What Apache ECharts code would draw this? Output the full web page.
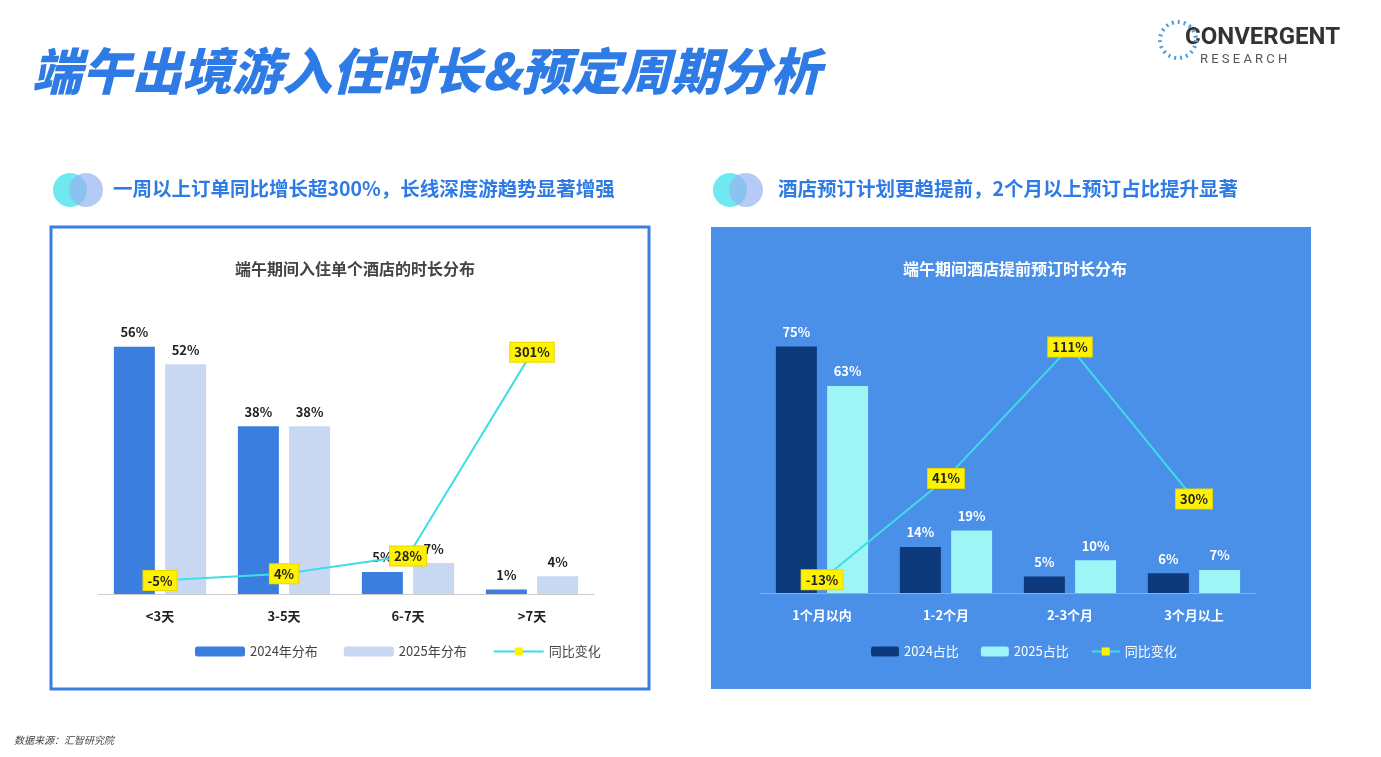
<!DOCTYPE html>
<html><head><meta charset="utf-8">
<script src="https://cdn.jsdelivr.net/npm/echarts@6/dist/echarts.min.js"></script>
<style>html,body{margin:0;background:#fff}#c{width:1381px;height:757px}</style>
</head><body><div id="c"></div>
<script>
var stayCats = ['<3天', '3-5天', '6-7天', '>7天'];
var stay2024 = [56, 38, 5, 1];
var stay2025 = [52, 38, 7, 4];
var stayYoy = [-5, 4, 28, 301];

var bookCats = ['1个月以内', '1-2个月', '2-3个月', '3个月以上'];
var book2024 = [75, 14, 5, 6];
var book2025 = [63, 19, 10, 7];
var bookYoy = [-13, 41, 111, 30];

var FONT = '"Noto Sans CJK SC", sans-serif';
var chart = echarts.init(document.getElementById('c'));

function barLabel(color) {
    return {show: true, position: 'top', formatter: '{c}%', color: color, fontWeight: 'bold', fontSize: 13, fontFamily: FONT, distance: 8};
}
var yoyLabel = {show: true, position: 'inside', formatter: '{c}%', color: '#222', backgroundColor: '#fff200',
    padding: [3, 4], fontWeight: 'bold', fontSize: 13, fontFamily: FONT, borderColor: '#e8d800', borderWidth: 1};

var option = {
    animation: false,
    textStyle: {fontFamily: FONT},
    graphic: [
        {type: 'text', left: 32, top: 46, style: {text: '端午出境游入住时长&预定周期分析', fill: '#2f7be5', font: 'italic 900 50px ' + FONT}},
        {type: 'text', left: 1185, top: 26, style: {text: 'CONVERGENT', fill: '#333', font: 'bold 24px Roboto'}},
        {type: 'text', left: 1200, top: 53, style: {text: 'R E S E A R C H', fill: '#555', font: '13px Roboto'}},
        {type: 'circle', shape: {cx: 1178, cy: 40, r: 18}, style: {fill: 'none', stroke: '#4a9ee0', lineWidth: 4, lineDash: [2, 4]}},
        {type: 'circle', shape: {cx: 70, cy: 190, r: 17}, style: {fill: '#6fe8f0'}},
        {type: 'circle', shape: {cx: 86, cy: 190, r: 17}, style: {fill: 'rgba(150,180,240,0.7)'}},
        {type: 'text', left: 113, top: 179, style: {text: '一周以上订单同比增长超300%，长线深度游趋势显著增强', fill: '#2f7be5', font: 'bold 19.5px ' + FONT}},
        {type: 'circle', shape: {cx: 730, cy: 190, r: 17}, style: {fill: '#6fe8f0'}},
        {type: 'circle', shape: {cx: 746, cy: 190, r: 17}, style: {fill: 'rgba(150,180,240,0.7)'}},
        {type: 'text', left: 778, top: 179, style: {text: '酒店预订计划更趋提前，2个月以上预订占比提升显著', fill: '#2f7be5', font: 'bold 19.5px ' + FONT}},
        {type: 'rect', z: -1, shape: {x: 51, y: 227, width: 598, height: 462}, style: {fill: '#fff', stroke: '#3a7fe0', lineWidth: 3}},
        {type: 'rect', z: -1, shape: {x: 711, y: 227, width: 600, height: 462}, style: {fill: '#4a8fe8'}},
        {type: 'text', left: 14, top: 735, style: {text: '数据来源：汇智研究院', fill: '#444', font: 'italic 10px ' + FONT}}
    ],
    title: [
        {text: '端午期间入住单个酒店的时长分布', left: 350, top: 256, textAlign: 'center', textStyle: {fontSize: 16, fontWeight: 'bold', color: '#444'}},
        {text: '端午期间酒店提前预订时长分布', left: 1010, top: 256, textAlign: 'center', textStyle: {fontSize: 16, fontWeight: 'bold', color: '#fff'}}
    ],
    legend: [
        {left: 190, top: 640, itemWidth: 50, itemHeight: 10, itemGap: 26, textStyle: {color: '#444', fontSize: 13},
            data: ['2024年分布', '2025年分布', '同比变化']},
        {left: 866, top: 640, itemWidth: 28, itemHeight: 10, itemGap: 22, textStyle: {color: '#fff', fontSize: 13},
            data: ['2024占比', '2025占比', '同比变化 ']}
    ],
    grid: [
        {left: 98, top: 329, width: 496, height: 265},
        {left: 760, top: 330, width: 496, height: 263}
    ],
    xAxis: [
        {type: 'category', gridIndex: 0, data: stayCats, axisTick: {show: false}, axisLine: {lineStyle: {color: '#ccc'}},
            axisLabel: {color: '#222', fontWeight: 'bold', fontSize: 13, margin: 16}},
        {type: 'category', gridIndex: 1, data: bookCats, axisTick: {show: false}, axisLine: {lineStyle: {color: '#7fb0f0'}},
            axisLabel: {color: '#fff', fontWeight: 'bold', fontSize: 13, margin: 16}}
    ],
    yAxis: [
        {type: 'value', gridIndex: 0, min: 0, max: 60, show: false},
        {type: 'value', gridIndex: 0, min: -23, max: 332, show: false},
        {type: 'value', gridIndex: 1, min: 0, max: 80, show: false},
        {type: 'value', gridIndex: 1, min: -20, max: 120, show: false}
    ],
    series: [
        {name: '2024年分布', type: 'bar', xAxisIndex: 0, yAxisIndex: 0, data: stay2024, barWidth: 41, barGap: '25%',
            itemStyle: {color: '#3a7fe0'}, label: barLabel('#222')},
        {name: '2025年分布', type: 'bar', xAxisIndex: 0, yAxisIndex: 0, data: stay2025, barWidth: 41,
            itemStyle: {color: '#c9d8f2'}, label: barLabel('#222')},
        {name: '同比变化', type: 'line', xAxisIndex: 0, yAxisIndex: 1, data: stayYoy, symbol: 'rect', symbolSize: 6,
            itemStyle: {color: '#fff200'}, lineStyle: {color: '#3edde8', width: 2}, label: yoyLabel, z: 5},
        {name: '2024占比', type: 'bar', xAxisIndex: 1, yAxisIndex: 2, data: book2024, barWidth: 41, barGap: '25%',
            itemStyle: {color: '#0d3a7a'}, label: barLabel('#fff')},
        {name: '2025占比', type: 'bar', xAxisIndex: 1, yAxisIndex: 2, data: book2025, barWidth: 41,
            itemStyle: {color: '#9ef5f5'}, label: barLabel('#fff')},
        {name: '同比变化 ', type: 'line', xAxisIndex: 1, yAxisIndex: 3, data: bookYoy, symbol: 'rect', symbolSize: 6,
            itemStyle: {color: '#fff200'}, lineStyle: {color: '#3edde8', width: 2}, label: yoyLabel, z: 5}
    ]
};
chart.setOption(option);
</script>
</body></html>
